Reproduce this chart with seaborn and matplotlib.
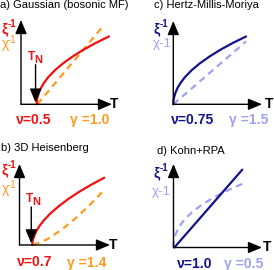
import numpy as np
import pandas as pd
import matplotlib.pyplot as plt
import seaborn as sns

# colours
RED = '#f01010'
ORANGE = '#ff9a1e'
NAVY = '#12128a'
LBLUE = '#a0a0f2'

# panel a) Gaussian (bosonic MF): xi^-1 (solid) and chi^-1 (dashed) vs T
a_xi_T = [0.173, 0.175, 0.181, 0.197, 0.221, 0.252, 0.300, 0.372, 0.459, 0.570, 0.689, 0.824, 0.967]
a_xi_v = [0.0, 0.040, 0.081, 0.139, 0.197, 0.254, 0.322, 0.403, 0.483, 0.569, 0.649, 0.729, 0.805]
a_chi_T = [0.18, 0.915]
a_chi_v = [0.0, 0.944]

# panel b) 3D Heisenberg
b_xi_T = [0.141, 0.143, 0.149, 0.165, 0.189, 0.221, 0.268, 0.340, 0.428, 0.539, 0.658, 0.794, 0.937]
b_xi_v = [0.0, 0.031, 0.066, 0.120, 0.177, 0.234, 0.303, 0.388, 0.474, 0.568, 0.656, 0.745, 0.831]
b_chi_T = [0.15, 0.309, 0.468, 0.627, 0.786, 0.945]
b_chi_v = [0.0, 0.072, 0.191, 0.337, 0.505, 0.69]

# panel c) Hertz-Millis-Moriya
c_xi_T = [0.0, 0.002, 0.008, 0.025, 0.049, 0.082, 0.131, 0.205, 0.295, 0.41, 0.533, 0.672, 0.82]
c_xi_v = [0.0, 0.041, 0.081, 0.141, 0.199, 0.257, 0.326, 0.407, 0.488, 0.575, 0.656, 0.737, 0.814]
c_chi_T = [0.0, 0.82]
c_chi_v = [0.0, 0.754]

# panel d) Kohn+RPA
d_xi_T = [0.01, 0.777]
d_xi_v = [0.0, 0.932]
d_chi_T = [0.0, 0.002, 0.008, 0.025, 0.05, 0.083, 0.132, 0.207, 0.298, 0.414, 0.538, 0.678, 0.827]
d_chi_v = [0.0, 0.053, 0.099, 0.162, 0.221, 0.278, 0.343, 0.42, 0.495, 0.574, 0.646, 0.717, 0.784]

W, H = 274, 270
sns.set_theme(style='white')
plt.rcParams['font.family'] = ['Liberation Sans', 'DejaVu Sans']

fig = plt.figure(figsize=(W / 100, H / 100), dpi=100)

ARR = dict(arrowstyle='-|>,head_length=0.6,head_width=0.25', color='black',
           lw=1.0, shrinkA=0, shrinkB=0, mutation_scale=14)


def px(x, y):
    return x / W, 1 - y / H


def panel(x0, y0, x1, y1):
    # origin (x0, y0) and arrow tips (x1, y1) in pixels
    ax = fig.add_axes([x0 / W, 1 - y0 / H, (x1 - x0) / W, (y0 - y1) / H])
    ax.set_xlim(0, 1)
    ax.set_ylim(0, 1)
    ax.axis('off')
    ax.annotate('', xy=(1, 0), xytext=(0, 0), arrowprops=ARR, annotation_clip=False)
    ax.annotate('', xy=(0, 1), xytext=(0, 0), arrowprops=ARR, annotation_clip=False)
    return ax


def curves(ax, xT, xv, cT, cv, c_xi, c_chi):
    df1 = pd.DataFrame({'T': xT, 'v': xv})
    df2 = pd.DataFrame({'T': cT, 'v': cv})
    sns.lineplot(data=df2, x='T', y='v', ax=ax, color=c_chi, lw=1.6,
                 sort=False, estimator=None)
    ax.lines[-1].set_dashes([3, 2.2])
    sns.lineplot(data=df1, x='T', y='v', ax=ax, color=c_xi, lw=1.6,
                 sort=False, estimator=None)
    for ln in ax.lines:
        ln.set_clip_on(False)


def tn_arrow(ax, x, ytop, ybot):
    ax.annotate('', xy=(x, ybot), xytext=(x, ytop), arrowprops=ARR,
                annotation_clip=False)


def txt(x, y, s, **kw):
    kw.setdefault('ha', 'center')
    kw.setdefault('va', 'center')
    fig.text(*px(x, y), s, **kw)


# panel a
ax_a = panel(21, 104.3, 112, 20)
curves(ax_a, a_xi_T, a_xi_v, a_chi_T, a_chi_v, RED, ORANGE)
tn_arrow(ax_a, 0.16, 0.47, 0.02)
# panel b
ax_b = panel(19.5, 245, 110, 164)
curves(ax_b, b_xi_T, b_xi_v, b_chi_T, b_chi_v, RED, ORANGE)
tn_arrow(ax_b, 0.13, 0.47, 0.02)
# panel c
ax_c = panel(173.3, 104.3, 262, 21)
curves(ax_c, c_xi_T, c_xi_v, c_chi_T, c_chi_v, NAVY, LBLUE)
# panel d
ax_d = panel(173.5, 247.5, 262, 164)
curves(ax_d, d_xi_T, d_xi_v, d_chi_T, d_chi_v, NAVY, LBLUE)

# titles
txt(0, 5, 'a) Gaussian (bosonic MF)', ha='left', fontsize=8, color='black')
txt(1, 148, 'b) 3D Heisenberg', ha='left', fontsize=8, color='black')
txt(154, 5, 'c) Hertz-Millis-Moriya', ha='left', fontsize=8, color='black')
txt(157, 151, 'd) Kohn+RPA', ha='left', fontsize=8, color='black')

# y labels
for (xx, yy, cx, cy, c1, c2, sup) in [
        (4.5, 29, 5, 44, RED, ORANGE, True),
        (4.5, 170, 5, 189.5, RED, ORANGE, True),
        (157, 29, 162, 44, NAVY, LBLUE, False),
        (156.5, 173, 161.5, 191.5, NAVY, LBLUE, False)]:
    txt(xx, yy, 'ξ', fontsize=10, fontweight='bold', color=c1)
    txt(xx + 7, yy - 5, '-1', fontsize=7, fontweight='bold', color=c1)
    if sup:
        txt(cx, cy, 'χ', fontsize=10, color=c2)
        txt(cx + 7, cy - 4, '-1', fontsize=7, color=c2)
    else:
        txt(cx, cy, 'χ-1', fontsize=9.5, color=c2)

# T axis labels
for (xx, yy) in [(114.5, 104), (113.5, 245), (269.5, 104), (267.5, 247)]:
    txt(xx, yy, 'T', fontsize=10, fontweight='bold', color='black')

# T_N labels
for (xx, yy) in [(31.5, 57), (29.5, 199)]:
    txt(xx, yy, 'T', fontsize=8.5, fontweight='bold', color=RED)
    txt(xx + 6.5, yy + 3, 'N', fontsize=8, fontweight='bold', color=RED)

# exponents
txt(34, 120, 'ν=0.5', fontsize=10, fontweight='bold', color=RED)
txt(89.5, 120, 'γ =1.0', fontsize=10, fontweight='bold', color=ORANGE)
txt(35, 262.5, 'ν=0.7', fontsize=10, fontweight='bold', color=RED)
txt(86.5, 262.5, 'γ =1.4', fontsize=10, fontweight='bold', color=ORANGE)
txt(193, 120, 'ν=0.75', fontsize=10, fontweight='bold', color=NAVY)
txt(248.5, 120, 'γ =1.5', fontsize=10, fontweight='bold', color=LBLUE)
txt(194.5, 264, 'ν=1.0', fontsize=10, fontweight='bold', color=NAVY)
txt(243.5, 264, 'γ =0.5', fontsize=10, fontweight='bold', color=LBLUE)

fig.savefig('out.png', dpi=100)
